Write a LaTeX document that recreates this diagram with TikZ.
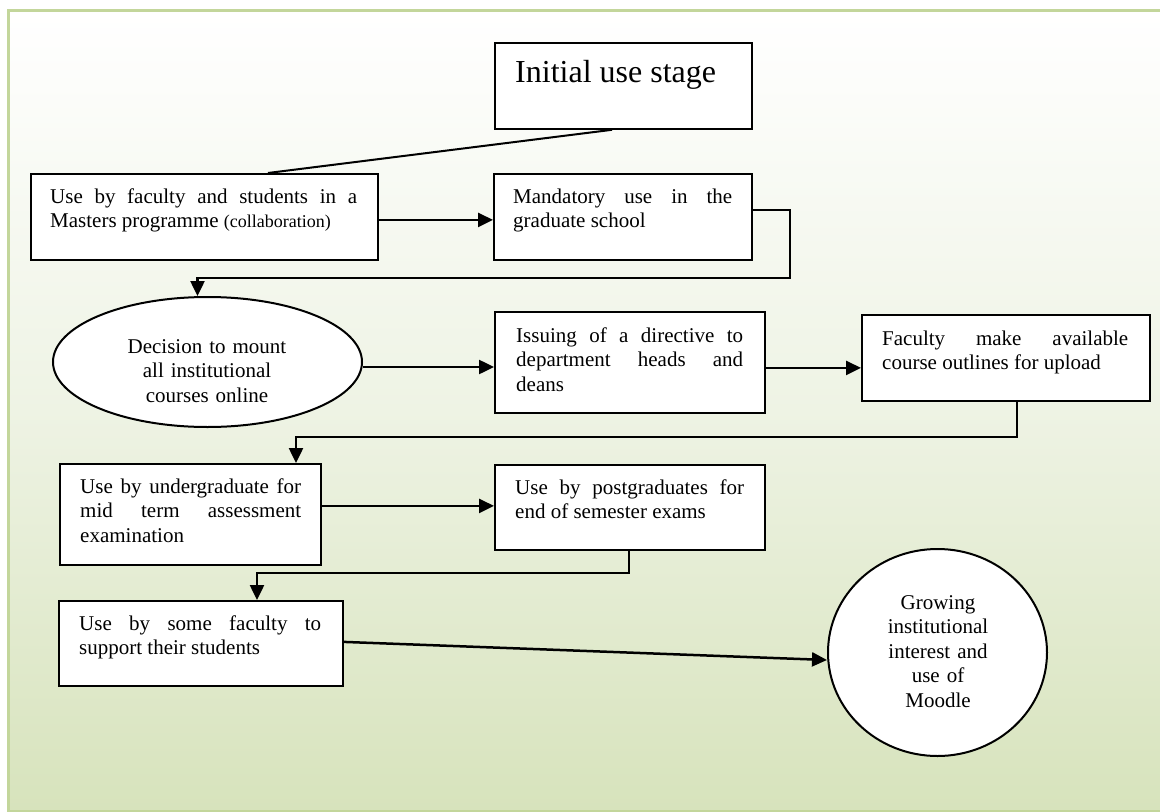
\documentclass[tikz,border=0pt]{standalone}
\usepackage{fontspec}
\setmainfont{Liberation Serif}
\usetikzlibrary{arrows.meta,calc,shapes.geometric}
\definecolor{bordergreen}{RGB}{195,214,155}
\definecolor{bgbottom}{RGB}{215,227,188}
\definecolor{bgmid}{RGB}{238,243,228}
\tolerance=10000
\hbadness=10000
\hyphenpenalty=10000
\tikzset{
  box/.style={draw=black, line width=1.8bp, fill=white, anchor=north west, inner sep=0pt},
  txt/.style={anchor=base west, inner sep=0pt, align=justify, font=\fontsize{21bp}{24.5bp}\selectfont},
  ctxt/.style={anchor=base, inner sep=0pt, align=center, font=\fontsize{21bp}{24.5bp}\selectfont},
  conn/.style={line width=2.5bp, -{Triangle[length=15bp,width=14bp]}},
  plain/.style={line width=2bp},
  oval/.style={draw=black, line width=2bp, fill=white, ellipse, inner sep=0pt},
}
\begin{document}
\begin{tikzpicture}[x=1bp,y=-1bp]
\useasboundingbox (0,0) rectangle (1160,812);
% background panel
\shade[top color=white, bottom color=bgbottom, middle color=bgmid] (8.5,11) rectangle (1170,811);
\draw[bordergreen, line width=3bp] (8.5,11) rectangle (1170,811);

% boxes
\node[box, minimum width=257bp, minimum height=86bp] (init) at (494,42) {};
\node[box, minimum width=347bp, minimum height=86bp] (b1) at (30,173) {};
\node[box, minimum width=258bp, minimum height=86bp] (b2) at (493,173) {};
\node[oval, minimum width=309bp, minimum height=130bp] (ell1) at (207.5,362) {};
\node[box, minimum width=270bp, minimum height=101bp] (b3) at (494,311) {};
\node[box, minimum width=288bp, minimum height=86bp] (b4) at (861,314) {};
\node[box, minimum width=261bp, minimum height=101bp] (b5) at (59,463) {};
\node[box, minimum width=270bp, minimum height=85bp] (b6) at (494,464) {};
\node[box, minimum width=284bp, minimum height=85bp] (b7) at (58,600) {};
\node[oval, minimum width=219bp, minimum height=207bp] (ell2) at (937.5,652.5) {};

% texts
\node[anchor=base west, inner sep=0pt, font=\fontsize{32bp}{38bp}\selectfont] (tinit) at (515,83) {Initial use stage};
\node[txt, text width=307bp] (t1) at (50,203) {Use by faculty and students in a\linebreak Masters programme {\fontsize{18bp}{24.5bp}\selectfont(collaboration)}};
\node[txt, text width=219bp] (t2) at (513,203) {Mandatory use in the\linebreak graduate school};
\node[ctxt, text width=240bp] (te1) at (207,353) {Decision to mount\\all institutional\\courses online};
\node[txt, text width=227bp] (t3) at (516,342) {Issuing of a directive to\linebreak department heads and\linebreak deans};
\node[txt, text width=246bp] (t4) at (882,345) {Faculty make available\linebreak course outlines for upload};
\node[txt, text width=221bp] (t5) at (80,493) {Use by undergraduate for\linebreak mid term assessment\linebreak examination};
\node[txt, text width=229bp] (t6) at (515,494) {Use by postgraduates for\linebreak end of semester exams};
\node[txt, text width=242bp] (t7) at (79,630) {Use by some faculty to\linebreak support their students};
\node[ctxt, text width=180bp] (te2) at (938,609) {Growing\\institutional\\interest and\\use of\\Moodle};

% connectors
\draw[plain] ($(init.south west)+(118,0)$) -- ($(b1.north west)+(238,0)$);
\draw[conn] ($(b1.east)+(0,3)$) coordinate (a0) -- (b2.west |- a0);
\draw[conn] ($(b2.east)+(0,-7)$) -- ++(37,0) -- ++(0,68) -| ($(ell1.north)+(-10,0)$);
\draw[conn] ($(ell1.east)+(0,5)$) coordinate (a1) -- (b3.west |- a1);
\draw[conn] ($(b3.east)+(0,5.5)$) coordinate (a2) -- (b4.west |- a2);
\draw[conn] ($(b4.south west)+(156,0)$) -- ++(0,35) -| ($(b5.north west)+(237,0)$);
\draw[conn] ($(b5.east)+(0,-8.5)$) coordinate (a3) -- (b6.west |- a3);
\draw[conn] ($(b6.south west)+(135,0)$) -- ++(0,22) -| ($(b7.north west)+(199,0)$);
\draw[conn] ($(b7.east)+(0,-1.5)$) -- ($(ell2.west)+(0,7.5)$);
\end{tikzpicture}
\end{document}
